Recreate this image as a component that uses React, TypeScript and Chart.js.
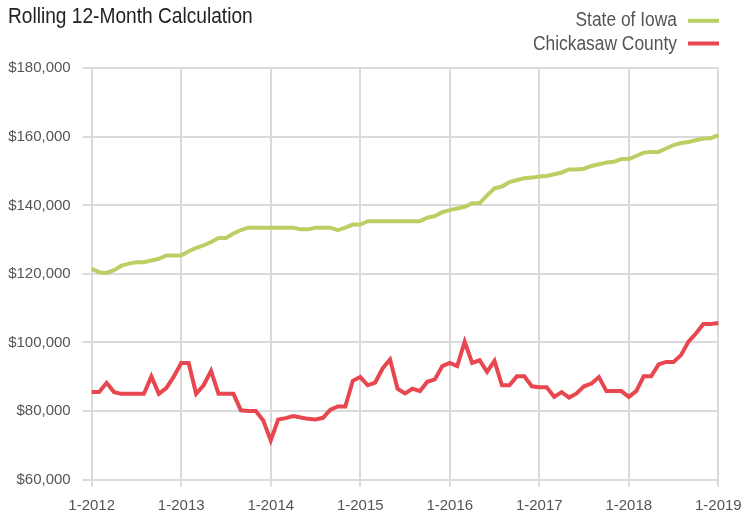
import React, { useEffect, useRef } from "react";
import { Chart, registerables } from "chart.js";

Chart.register(...registerables);

const TITLE = "Rolling 12-Month Calculation";
const START_YEAR = 2012;
const MONTH_COUNT = 85;
const categories: string[] = [];
for (let i = 0; i < MONTH_COUNT; i++) {
  categories.push(`${(i % 12) + 1}-${START_YEAR + Math.floor(i / 12)}`);
}

const tickLabels = ["1-2012", "1-2013", "1-2014", "1-2015", "1-2016", "1-2017", "1-2018", "1-2019"];

const seriesNames = ["State of Iowa", "Chickasaw County"];

const iowa = [
  121.5, 120.5, 120.3, 121.1, 122.4, 123.0, 123.4, 123.4, 123.9, 124.4, 125.4, 125.4,
  125.4, 126.6, 127.6, 128.3, 129.3, 130.5, 130.5, 131.8, 132.8, 133.5, 133.5, 133.5,
  133.5, 133.5, 133.5, 133.5, 133.0, 133.0, 133.5, 133.5, 133.5, 132.8, 133.5, 134.4,
  134.4, 135.4, 135.4, 135.4, 135.4, 135.4, 135.4, 135.4, 135.4, 136.4, 136.9, 138.0,
  138.6, 139.1, 139.6, 140.6, 140.6, 142.9, 145.0, 145.5, 146.8, 147.4, 147.9, 148.1,
  148.4, 148.6, 149.1, 149.6, 150.5, 150.5, 150.7, 151.5, 152.0, 152.5, 152.7, 153.5,
  153.5, 154.4, 155.4, 155.6, 155.6, 156.6, 157.6, 158.2, 158.5, 159.0, 159.5, 159.6,
  160.5,
].map((v) => v * 1000);

const chickasaw = [
  85.5, 85.5, 88.2, 85.5, 85.0, 85.0, 85.0, 85.0, 90.1, 85.0, 86.7, 90.0,
  94.0, 94.0, 85.0, 87.5, 91.7, 85.0, 85.0, 85.0, 80.2, 80.0, 80.0, 77.2,
  71.4, 77.5, 77.9, 78.5, 78.1, 77.7, 77.5, 78.0, 80.4, 81.3, 81.3, 88.8,
  89.9, 87.5, 88.3, 92.4, 95.0, 86.5, 85.1, 86.5, 85.8, 88.5, 89.2, 93.1,
  94.0, 93.1, 100.2, 94.0, 94.8, 91.4, 94.6, 87.5, 87.5, 90.1, 90.1, 87.2,
  86.9, 86.9, 84.1, 85.5, 83.9, 85.1, 87.2, 88.0, 89.9, 85.8, 85.8, 85.8,
  84.1, 85.8, 90.1, 90.1, 93.6, 94.3, 94.3, 96.3, 100.2, 102.6, 105.4, 105.4,
  105.7,
].map((v) => v * 1000);

const GREEN = "#bad064";
const RED = "#e8474f";
const GRID = "#dadada";
const TEXT = "#555555";
const FONT = "'Liberation Sans', Arial, sans-serif";
const CONDENSE = 0.87;

const headerPlugin = {
  id: "header",
  afterDraw(chart: any) {
    const ctx = chart.ctx;
    ctx.save();
    ctx.textBaseline = "alphabetic";

    ctx.save();
    ctx.translate(8, 22.5);
    ctx.scale(CONDENSE, 1);
    ctx.fillStyle = "#222222";
    ctx.font = `22px ${FONT}`;
    ctx.textAlign = "left";
    ctx.fillText(TITLE, 0, 0);
    ctx.restore();

    const colors = [GREEN, RED];
    const baselines = [26, 50];
    const lineYs = [20.8, 43.5];
    for (let i = 0; i < seriesNames.length; i++) {
      ctx.save();
      ctx.translate(677, baselines[i]);
      ctx.scale(CONDENSE, 1);
      ctx.font = `20px ${FONT}`;
      ctx.textAlign = "right";
      ctx.fillStyle = TEXT;
      ctx.fillText(seriesNames[i], 0, 0);
      ctx.restore();
      ctx.strokeStyle = colors[i];
      ctx.lineWidth = 4;
      ctx.beginPath();
      ctx.moveTo(688, lineYs[i]);
      ctx.lineTo(719, lineYs[i]);
      ctx.stroke();
    }
    ctx.restore();
  },
};

export default function App() {
  const ref = useRef<HTMLCanvasElement | null>(null);
  useEffect(() => {
    if (!ref.current) return;
    const chart = new Chart(ref.current, {
      type: "line",
      data: {
        labels: categories,
        datasets: [
          {
            label: seriesNames[0],
            data: iowa,
            borderColor: GREEN,
            backgroundColor: GREEN,
            borderWidth: 4,
            pointRadius: 0,
            tension: 0,
          },
          {
            label: seriesNames[1],
            data: chickasaw,
            borderColor: RED,
            backgroundColor: RED,
            borderWidth: 4,
            pointRadius: 0,
            tension: 0,
          },
        ],
      },
      options: {
        responsive: false,
        animation: false,
        maintainAspectRatio: false,
        layout: { padding: { top: 68.3, right: 24.7, left: 0, bottom: 0 } },
        plugins: { legend: { display: false }, title: { display: false }, tooltip: { enabled: false } },
        scales: {
          x: {
            type: "category",
            offset: false,
            border: { color: GRID, width: 2 },
            grid: { color: GRID, lineWidth: 2, tickLength: 7, drawTicks: true },
            ticks: {
              autoSkip: false,
              maxRotation: 0,
              minRotation: 0,
              padding: 10,
              color: TEXT,
              font: { family: FONT, size: 15 },
              callback: (_v: any, index: number) => {
                if (index % 12 === 0) return tickLabels[index / 12];
                return null;
              },
            },
            afterFit: (scale: any) => {
              scale.height = 515 - 479.5;
              scale.paddingLeft = 0;
              scale.paddingRight = 0;
            },
          },
          y: {
            min: 60000,
            max: 180000,
            border: { color: GRID, width: 2 },
            grid: { color: GRID, lineWidth: 2, tickLength: 9 },
            ticks: {
              stepSize: 20000,
              padding: 12,
              color: TEXT,
              font: { family: FONT, size: 15 },
              callback: (v: any) => "$" + Number(v).toLocaleString("en-US"),
            },
            afterFit: (scale: any) => {
              scale.width = 91.7;
              scale.paddingTop = 0;
              scale.paddingBottom = 0;
            },
          },
        },
      },
      plugins: [headerPlugin],
    });
    return () => chart.destroy();
  }, []);
  return (
    <div style={{ position: "absolute", left: 0, top: 0, width: 743, height: 515, background: "#fff" }}>
      <canvas ref={ref} width={743} height={515} style={{ display: "block", width: 743, height: 515 }} />
    </div>
  );
}
